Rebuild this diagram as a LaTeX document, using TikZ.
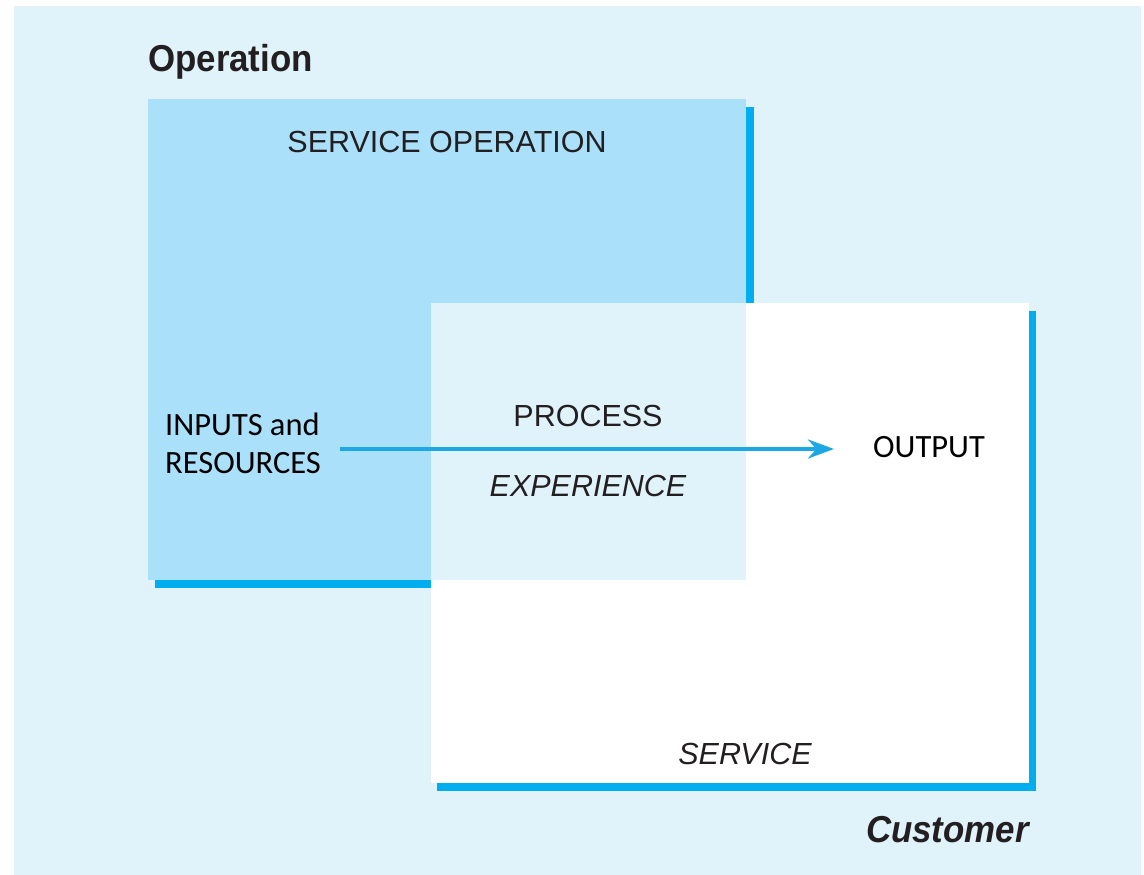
\documentclass[tikz,border=0pt]{standalone}
\usepackage{fontspec}
\setmainfont{Liberation Sans}
\newfontfamily\headfont[FakeStretch=0.93]{Liberation Sans}
\newfontfamily\calib{Carlito}
\usetikzlibrary{arrows.meta}
\definecolor{paleblue}{HTML}{E0F2FA}
\definecolor{opblue}{HTML}{AAE0FA}
\definecolor{edgeblue}{HTML}{00AEEF}
\definecolor{flowblue}{HTML}{1CA8E4}
\definecolor{ink}{HTML}{231F20}
\begin{document}
\begin{tikzpicture}[x=1pt,y=-1pt,
  txt/.style={inner sep=0pt,text=ink},
  caption/.style={txt,font=\fontsize{30.5}{36}\selectfont},
  title/.style={txt,font=\headfont\bfseries\fontsize{37.5}{44}\selectfont},
  note/.style={inner sep=0pt,text=black,font=\calib\fontsize{32.5}{38}\selectfont},
  flow/.style={draw=flowblue,line width=4.5pt,-{Stealth[length=26pt,width=19pt]}}]
\useasboundingbox (0,0) rectangle (1144,875);
% page panel
\fill[paleblue] (14,6) rectangle (1141,875);
% service operation box with its edge shading
\fill[edgeblue] (746,107) rectangle (754,303);
\fill[edgeblue] (155,580) rectangle (754,588);
\fill[opblue] (148,99) rectangle (746,580);
% service (customer) box with its edge shading
\fill[edgeblue] (1029,311) rectangle (1036,791);
\fill[edgeblue] (437,783) rectangle (1036,791);
\fill[white] (431,303) rectangle (1029,783);
% shared process region
\fill[paleblue] (431,303) rectangle (746,580);
% labels
\node[title,anchor=base west] (op) at (148,72) {Operation};
\node[title,anchor=base east] (cust) at (1029,842) {\itshape Customer};
\node[caption,anchor=base] (sop) at (447,152) {SERVICE OPERATION};
\node[caption,anchor=base] (proc) at (588,426) {PROCESS};
\node[caption,anchor=base] (exp) at (588,496) {\itshape EXPERIENCE};
\node[caption,anchor=base] (serv) at (745,764) {\itshape SERVICE};
\node[note,anchor=base west,align=left] (inp) at (165,473) {INPUTS and\\RESOURCES};
\node[note,anchor=base west] (out) at (873,457) {OUTPUT};
% flow from inputs to output
\coordinate (flowstart) at (340,449);
\coordinate (flowend) at (834,449);
\draw[flow] (flowstart) -- (flowend);
\end{tikzpicture}
\end{document}
